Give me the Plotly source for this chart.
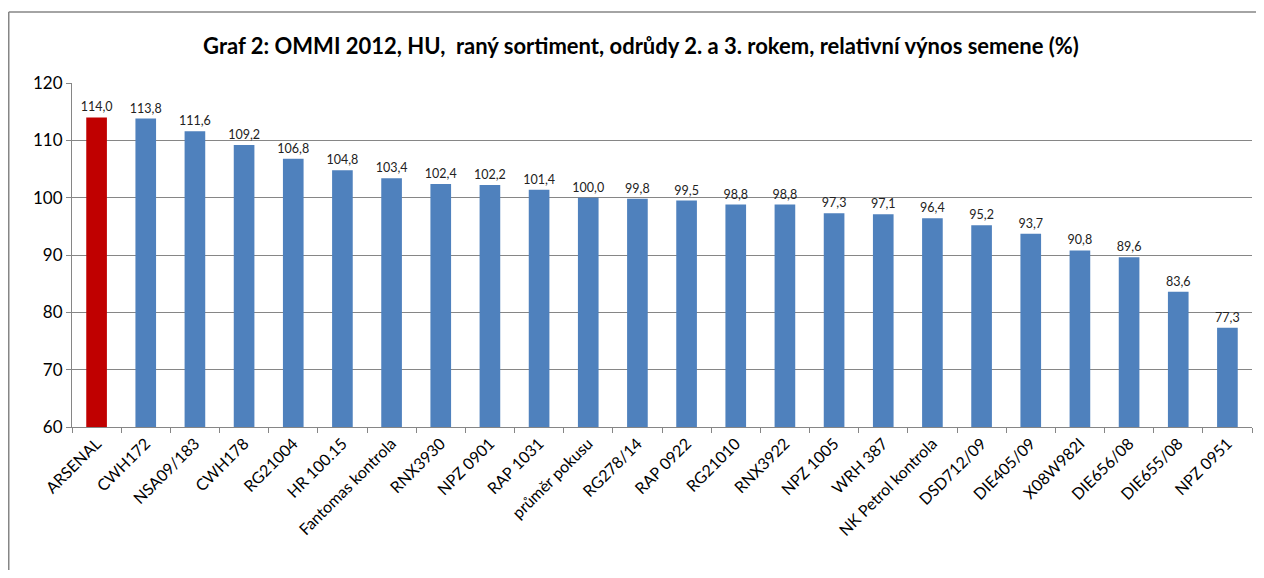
import plotly.graph_objects as go

categories = ["ARSENAL", "CWH172", "NSA09/183", "CWH178", "RG21004", "HR 100.15",
              "Fantomas kontrola", "RNX3930", "NPZ 0901", "RAP 1031", "průměr pokusu",
              "RG278/14", "RAP 0922", "RG21010", "RNX3922", "NPZ 1005", "WRH 387",
              "NK Petrol kontrola", "DSD712/09", "DIE405/09", "X08W982I", "DIE656/08",
              "DIE655/08", "NPZ 0951"]
values = [114.0, 113.8, 111.6, 109.2, 106.8, 104.8, 103.4, 102.4, 102.2, 101.4, 100.0,
          99.8, 99.5, 98.8, 98.8, 97.3, 97.1, 96.4, 95.2, 93.7, 90.8, 89.6, 83.6, 77.3]
highlight = "ARSENAL"

colors = ["#C00000" if c == highlight else "#4F81BD" for c in categories]
labels = [f"{v:.1f}".replace(".", ",") for v in values]

FONT = "Lato, 'Open Sans', sans-serif"

fig = go.Figure(go.Bar(
    x=categories, y=values,
    marker=dict(color=colors, line=dict(width=0)),
    text=labels, textposition="outside", cliponaxis=False, constraintext="none",
    textfont=dict(size=12.5, color="#222222", family=FONT),
))

# page body adds an 8px margin; figure sized to fit the window without overflow
OFF = 8
W, H = 1264 - 2 * OFF, 578 - 2 * OFF
L, T = 72 - OFF, 83 - OFF
R = W - (1252 - OFF)
B = H - (427 - OFF)
pw, ph = W - L - R, H - T - B

fig.update_layout(
    width=W, height=H,
    margin=dict(l=L, r=R, t=T, b=B, autoexpand=False),
    paper_bgcolor="white", plot_bgcolor="white",
    bargap=0.58,
    showlegend=False,
    title=dict(text="<b>Graf 2: OMMI 2012, HU,  raný sortiment, odrůdy 2. a 3. rokem, relativní výnos semene (%)</b>",
               x=(641 - OFF) / W, xanchor="center", y=1 - (46 - OFF) / H, yanchor="middle",
               font=dict(size=22, color="#000000", family=FONT)),
    font=dict(family=FONT, color="#000000"),
)
fig.update_yaxes(range=[60, 120], dtick=10, showgrid=True, gridcolor="#868686", gridwidth=1,
                 showline=True, linecolor="#868686", linewidth=1, automargin=False,
                 ticks="outside", ticklen=5, tickcolor="#868686",
                 tickfont=dict(size=17, family=FONT, color="#000000"), zeroline=False)
fig.update_xaxes(showline=True, linecolor="#868686", linewidth=1, automargin=False,
                 ticks="outside", ticklen=5, tickcolor="#868686", tickson="boundaries",
                 tickangle=-45, tickfont=dict(size=16, family=FONT, color="#000000"),
                 range=[-0.5, len(categories) - 0.5])

# outer chart frame: only top and left edges are visible in the window
fx0 = (8 - OFF - L + 0.75) / pw
fx1 = (W - L) / pw
fy_top = 1 + (T - (12 - OFF)) / ph
fy_bot = 1 - (H - T) / ph
frame = dict(color="#868686", width=1.5)
fig.add_shape(type="line", xref="paper", yref="paper", x0=fx0, x1=fx1, y0=fy_top, y1=fy_top,
              line=frame, layer="below")
fig.add_shape(type="line", xref="paper", yref="paper", x0=fx0, x1=fx0, y0=fy_bot, y1=fy_top,
              line=frame, layer="below")

fig.write_html("out.html")
